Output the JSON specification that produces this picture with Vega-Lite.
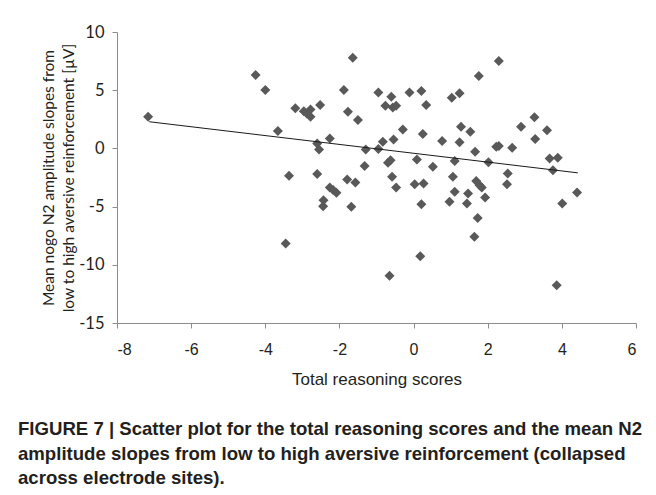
{
  "$schema": "https://vega.github.io/schema/vega-lite/v6.json",
  "width": 519,
  "height": 291,
  "autosize": {"type": "none"},
  "padding": {"left": 117, "top": 32, "right": 20, "bottom": 172},
  "background": "white",
  "title": {
    "text": ["FIGURE 7 | Scatter plot for the total reasoning scores and the mean N2", "amplitude slopes from low to high aversive reinforcement (collapsed", "across electrode sites)."],
    "orient": "bottom",
    "anchor": "start",
    "frame": "group",
    "font": "Liberation Sans",
    "fontSize": 18.6,
    "fontWeight": "bold",
    "color": "#231f20",
    "lineHeight": 24.5,
    "offset": 33,
    "dx": -99
  },
  "datasets": {
    "points": [
      {"score": -7.16, "slope": 2.72},
      {"score": -4.26, "slope": 6.30},
      {"score": -4.00, "slope": 5.01},
      {"score": -3.66, "slope": 1.49},
      {"score": -3.45, "slope": -8.17},
      {"score": -3.36, "slope": -2.35},
      {"score": -3.19, "slope": 3.44},
      {"score": -2.96, "slope": 3.20},
      {"score": -2.88, "slope": 3.00},
      {"score": -2.78, "slope": 3.35},
      {"score": -2.78, "slope": 2.72},
      {"score": -2.52, "slope": 3.72},
      {"score": -2.60, "slope": 0.43},
      {"score": -2.55, "slope": -0.09},
      {"score": -2.26, "slope": 0.86},
      {"score": -2.60, "slope": -2.21},
      {"score": -2.26, "slope": -3.36},
      {"score": -2.17, "slope": -3.58},
      {"score": -2.08, "slope": -3.81},
      {"score": -2.43, "slope": -4.45},
      {"score": -2.44, "slope": -4.96},
      {"score": -1.88, "slope": 5.01},
      {"score": -1.64, "slope": 7.79},
      {"score": -1.77, "slope": 3.15},
      {"score": -1.50, "slope": 2.43},
      {"score": -1.79, "slope": -2.67},
      {"score": -1.57, "slope": -2.93},
      {"score": -1.68, "slope": -5.02},
      {"score": -1.29, "slope": -0.09},
      {"score": -1.32, "slope": -1.52},
      {"score": -0.95, "slope": 4.80},
      {"score": -0.95, "slope": -0.05},
      {"score": -0.60, "slope": 4.44},
      {"score": -0.76, "slope": 3.66},
      {"score": -0.56, "slope": 3.52},
      {"score": -0.47, "slope": 3.66},
      {"score": -0.11, "slope": 4.81},
      {"score": 0.21, "slope": 4.93},
      {"score": 0.34, "slope": 3.72},
      {"score": -0.29, "slope": 1.63},
      {"score": 0.25, "slope": 1.23},
      {"score": 0.77, "slope": 0.63},
      {"score": -0.83, "slope": 0.57},
      {"score": -0.54, "slope": 0.77},
      {"score": -0.69, "slope": -1.24},
      {"score": -0.62, "slope": -1.01},
      {"score": 0.09, "slope": -0.95},
      {"score": 0.52, "slope": -1.58},
      {"score": -0.58, "slope": -2.44},
      {"score": -0.47, "slope": -3.35},
      {"score": 0.03, "slope": -3.07},
      {"score": 0.27, "slope": -3.01},
      {"score": 0.21, "slope": -4.79},
      {"score": 0.18, "slope": -9.26},
      {"score": -0.65, "slope": -10.95},
      {"score": 1.03, "slope": 4.35},
      {"score": 1.24, "slope": 4.73},
      {"score": 1.76, "slope": 6.22},
      {"score": 2.30, "slope": 7.50},
      {"score": 1.28, "slope": 1.86},
      {"score": 1.53, "slope": 1.43},
      {"score": 1.24, "slope": 0.52},
      {"score": 1.66, "slope": -0.29},
      {"score": 1.11, "slope": -1.09},
      {"score": 2.02, "slope": -1.20},
      {"score": 2.23, "slope": 0.14},
      {"score": 2.30, "slope": 0.20},
      {"score": 2.66, "slope": 0.05},
      {"score": 2.90, "slope": 1.86},
      {"score": 3.26, "slope": 2.67},
      {"score": 3.60, "slope": 1.57},
      {"score": 3.28, "slope": 0.80},
      {"score": 3.67, "slope": -0.86},
      {"score": 3.89, "slope": -0.81},
      {"score": 3.76, "slope": -1.87},
      {"score": 1.06, "slope": -2.44},
      {"score": 1.69, "slope": -2.81},
      {"score": 1.78, "slope": -3.16},
      {"score": 1.84, "slope": -3.35},
      {"score": 2.54, "slope": -2.15},
      {"score": 2.52, "slope": -3.07},
      {"score": 1.11, "slope": -3.73},
      {"score": 1.47, "slope": -3.87},
      {"score": 0.97, "slope": -4.59},
      {"score": 1.44, "slope": -4.73},
      {"score": 1.93, "slope": -4.21},
      {"score": 1.73, "slope": -5.97},
      {"score": 1.64, "slope": -7.60},
      {"score": 4.01, "slope": -4.73},
      {"score": 4.41, "slope": -3.78},
      {"score": 3.86, "slope": -11.75}
    ],
    "trend": [
      {"score": -7.13, "slope": 2.29},
      {"score": 4.43, "slope": -2.10}
    ]
  },
  "layer": [
    {
      "data": {"name": "points"},
      "mark": {"type": "point", "shape": "diamond", "filled": true, "size": 100, "color": "#595959", "opacity": 1},
      "encoding": {
        "x": {"field": "score", "type": "quantitative"},
        "y": {"field": "slope", "type": "quantitative"}
      }
    },
    {
      "data": {"name": "trend"},
      "mark": {"type": "line", "color": "#1a1a1a", "strokeWidth": 1},
      "encoding": {
        "x": {"field": "score", "type": "quantitative"},
        "y": {"field": "slope", "type": "quantitative"}
      }
    }
  ],
  "encoding": {
    "x": {
      "field": "score", "type": "quantitative",
      "scale": {"domain": [-8, 6], "nice": false, "zero": false},
      "axis": {
        "title": "Total reasoning scores",
        "values": [-8, -6, -4, -2, 0, 2, 4, 6],
        "labelExpr": "'' + datum.value",
        "grid": false,
        "domainColor": "#8c8c8c",
        "tickColor": "#8c8c8c",
        "tickSize": 5,
        "labelFont": "Liberation Sans",
        "labelFontSize": 16,
        "labelColor": "#231f20",
        "labelPadding": 13,
        "titleFont": "Liberation Sans",
        "titleFontSize": 17,
        "titleFontWeight": "normal",
        "titleColor": "#231f20",
        "titlePadding": 14
      }
    },
    "y": {
      "field": "slope", "type": "quantitative",
      "scale": {"domain": [-15, 10], "nice": false, "zero": false},
      "axis": {
        "title": ["Mean nogo N2 amplitude slopes from", "low to high aversive reinforcement [µV]"],
        "values": [-15, -10, -5, 0, 5, 10],
        "labelExpr": "'' + datum.value",
        "grid": false,
        "domainColor": "#8c8c8c",
        "tickColor": "#8c8c8c",
        "tickSize": 5,
        "labelFont": "Lato",
        "labelFontSize": 16.5,
        "labelColor": "#231f20",
        "labelPadding": 8,
        "titleFont": "Lato",
        "titleFontSize": 15.5,
        "titleFontWeight": "normal",
        "titleColor": "#231f20",
        "titleLineHeight": 20,
        "titlePadding": 2
      }
    }
  },
  "config": {
    "view": {"stroke": null}
  }
}
